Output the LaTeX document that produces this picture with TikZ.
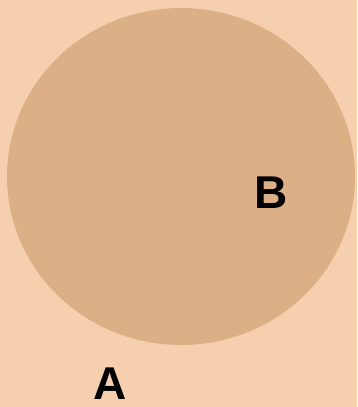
\documentclass[tikz,border=0pt]{standalone}
\usepackage{fontspec}
\setmainfont{Liberation Sans}
\definecolor{bgpeach}{HTML}{F6D0AE}
\definecolor{circtan}{HTML}{DBB086}
\begin{document}
\begin{tikzpicture}[x=1pt,y=-1pt,
  lbl/.style={font=\fontsize{46}{46}\selectfont\bfseries, text=black, inner sep=0pt, anchor=center}]
\fill[bgpeach] (0,0) rectangle (357,407);
\useasboundingbox (0,0) rectangle (357,407);
\fill[circtan] (181,176.5) ellipse [x radius=174, y radius=168.5];
\node[lbl] (B) at (271,193) {B};
\node[lbl] (A) at (110,384) {A};
\end{tikzpicture}
\end{document}
